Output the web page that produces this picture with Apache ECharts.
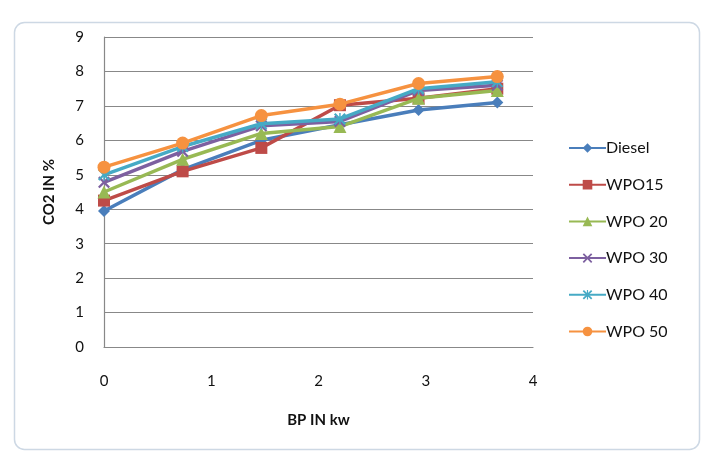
<!DOCTYPE html>
<html><head><meta charset="utf-8">
<script src="https://cdn.jsdelivr.net/npm/echarts@6/dist/echarts.min.js"></script>
<style>html,body{margin:0;padding:0;background:#fff}#c{width:704px;height:453px}</style>
</head><body><div id="c"></div>
<script>
const bp = [0, 0.733, 1.467, 2.2, 2.933, 3.667];
const seriesNames = ['Diesel', 'WPO15', 'WPO 20', 'WPO 30', 'WPO 40', 'WPO 50'];
const diesel = [3.95, 5.15, 6.0, 6.45, 6.88, 7.1];
const wpo15 = [4.25, 5.1, 5.78, 7.02, 7.22, 7.5];
const wpo20 = [4.5, 5.45, 6.2, 6.4, 7.22, 7.45];
const wpo30 = [4.78, 5.68, 6.42, 6.55, 7.45, 7.6];
const wpo40 = [5.0, 5.82, 6.48, 6.62, 7.5, 7.7];
const wpo50 = [5.22, 5.92, 6.72, 7.05, 7.65, 7.85];
const yTicks = [0,1,2,3,4,5,6,7,8,9];
const xTicks = [0,1,2,3,4];

const colors = ['#4A7EBB', '#BE4B48', '#98B954', '#7D60A0', '#46AAC5', '#F69240'];
const xPath = 'path://M0,1.3 L1.3,0 L5,3.7 L8.7,0 L10,1.3 L6.3,5 L10,8.7 L8.7,10 L5,6.3 L1.3,10 L0,8.7 L3.7,5 Z';
const starPath = 'path://M0,1.3 L1.3,0 L5,3.7 L8.7,0 L10,1.3 L6.3,5 L10,8.7 L8.7,10 L5,6.3 L1.3,10 L0,8.7 L3.7,5 Z M4.4,0 L5.6,0 L5.6,10 L4.4,10 Z';
const symbols = ['diamond', 'rect', 'triangle', xPath, starPath, 'circle'];
const symSizes = [12, 12, 13, 12, 12, 13];
const all = [diesel, wpo15, wpo20, wpo30, wpo40, wpo50];
const font = 'Lato, "Open Sans", sans-serif';

const chart = echarts.init(document.getElementById('c'), null, {renderer: 'canvas'});
chart.setOption({
  animation: false,
  color: colors,
  graphic: [{
    type: 'rect', left: 12, top: 20,
    shape: {width: 685, height: 427, r: 10},
    style: {fill: 'none', stroke: '#cdd8e4', lineWidth: 1.5}, z: -1
  }],
  grid: {left: 104, top: 37, width: 429, height: 310, containLabel: false},
  xAxis: {
    type: 'value', min: 0, max: 4, interval: 1,
    name: 'BP IN kw', nameLocation: 'middle', nameGap: 66,
    nameTextStyle: {fontFamily: font, fontWeight: 'bold', fontSize: 15, color: '#111'},
    axisLine: {show: true, lineStyle: {color: '#888', width: 1.2}},
    axisTick: {show: false},
    axisLabel: {fontFamily: font, fontSize: 15, color: '#111', margin: 27},
    splitLine: {show: false}
  },
  yAxis: {
    type: 'value', min: 0, max: 9, interval: 1,
    name: 'CO2 IN %', nameLocation: 'middle', nameGap: 47, nameRotate: 90,
    nameTextStyle: {fontFamily: font, fontWeight: 'bold', fontSize: 15, color: '#111'},
    axisLine: {show: true, lineStyle: {color: '#888', width: 1.2}},
    axisTick: {show: false},
    axisLabel: {fontFamily: font, fontSize: 15, color: '#111', margin: 20},
    splitLine: {show: true, lineStyle: {color: '#888', width: 1.2}}
  },
  legend: {
    orient: 'vertical', left: 563, top: 135,
    itemWidth: 37, itemHeight: 12, itemGap: 20.7,
    textStyle: {fontFamily: font, fontSize: 16, color: '#111', padding: [0,0,0,-5]},
    data: seriesNames
  },
  series: seriesNames.map((n, i) => ({
    name: n, type: 'line',
    data: bp.map((x, j) => [x, all[i][j]]),
    symbol: symbols[i], symbolSize: symSizes[i], showSymbol: true,
    lineStyle: {width: 3.5, color: colors[i]},
    itemStyle: {color: colors[i]},
    z: 2 + i
  }))
});
</script></body></html>
